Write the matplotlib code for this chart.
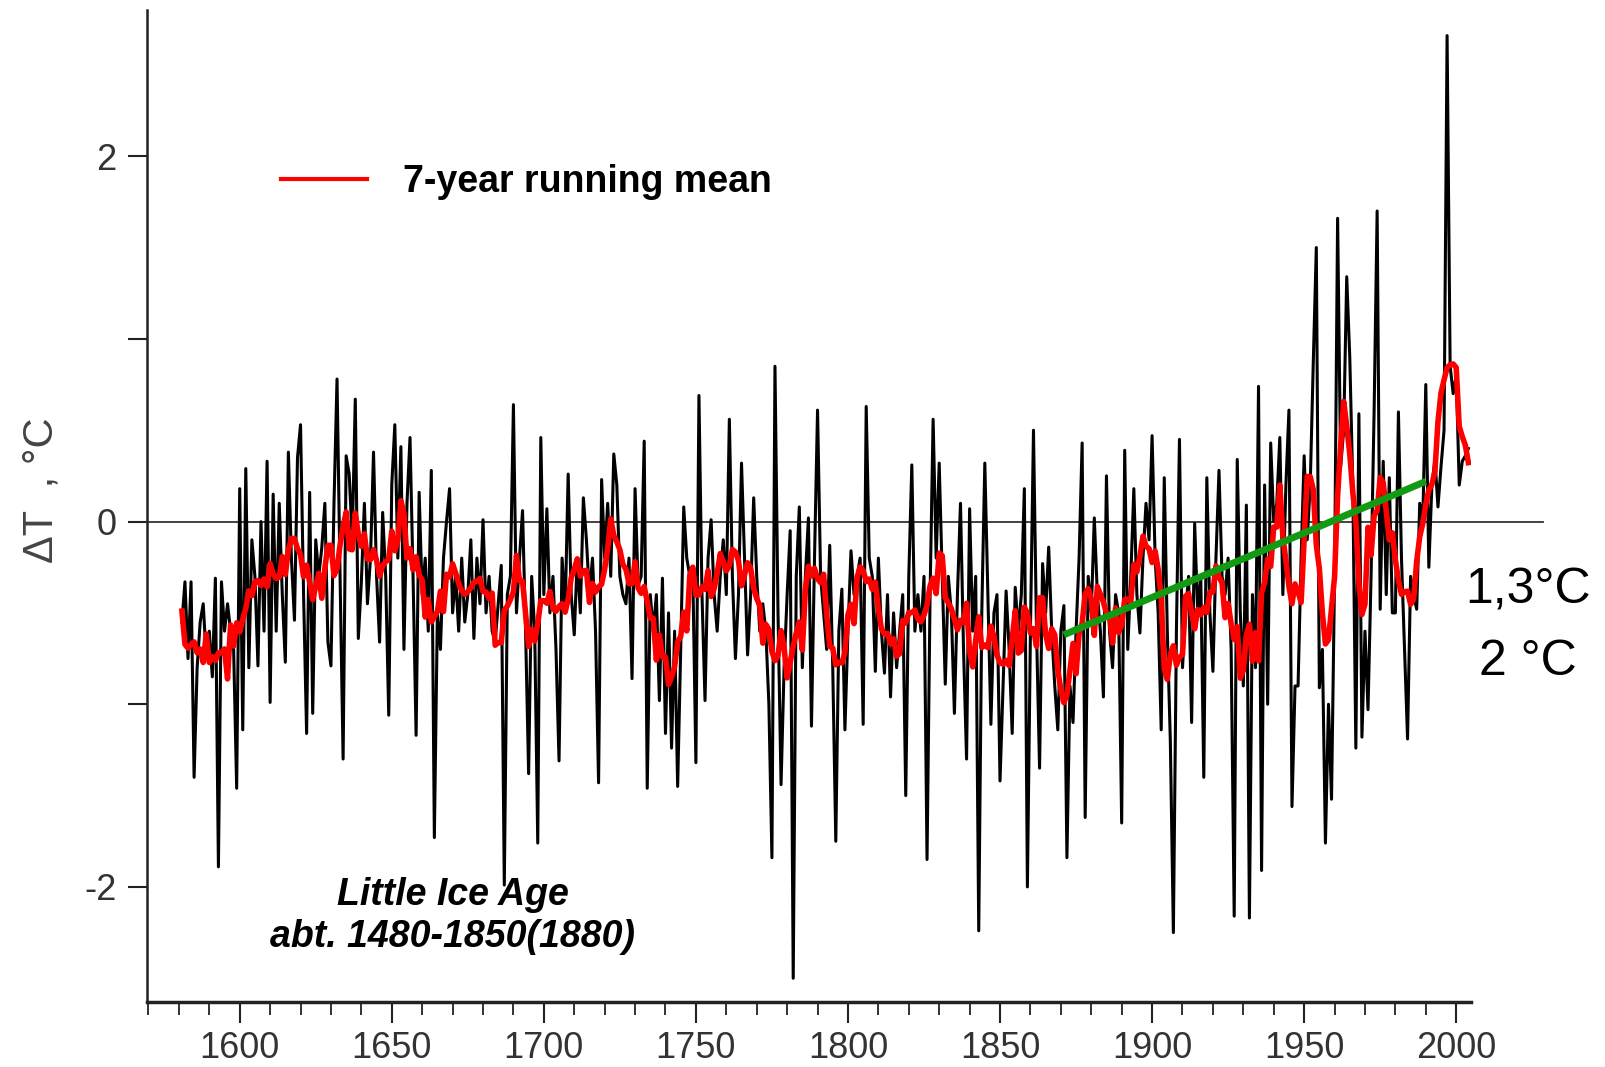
import numpy as np
import pandas as pd
import matplotlib
matplotlib.use("Agg")
import matplotlib.pyplot as plt
from matplotlib.ticker import MultipleLocator

plt.rcParams['font.family'] = ['Liberation Sans', 'DejaVu Sans']
plt.rcParams['axes.unicode_minus'] = False

# annual temperature anomaly (deg C), one value per year
anom_1581_1600 = [-0.55, -0.33, -0.75, -0.33, -1.40, -0.80, -0.55, -0.45, -0.75, -0.60,
                  -0.85, -0.31, -1.89, -0.33, -0.60, -0.45, -0.60, -0.70, -1.46, 0.18]
anom_1601_1650 = [-1.14, 0.29, -0.80, -0.10, -0.30, -0.79, 0.00, -0.60, 0.33, -0.99,
                  0.15, -0.60, 0.10, -0.40, -0.77, 0.38, -0.20, -0.54, 0.35, 0.53,
                  -0.40, -1.16, 0.16, -1.05, -0.10, -0.30, -0.14, 0.10, -0.66, -0.79,
                  0.10, 0.78, -0.30, -1.30, 0.36, 0.26, -0.10, 0.67, -0.64, -0.33,
                  0.10, -0.45, -0.20, 0.38, -0.30, -0.66, 0.05, -0.30, -1.06, 0.20]
anom_1651_1700 = [0.53, -0.20, 0.41, -0.70, 0.10, 0.46, -0.30, -1.17, 0.16, -0.40,
                  -0.20, -0.60, 0.28, -1.73, -0.50, -0.70, -0.20, 0.00, 0.18, -0.50,
                  -0.30, -0.60, -0.20, -0.55, -0.40, -0.10, -0.64, -0.20, -0.45, 0.01,
                  -0.50, -0.30, -0.60, -0.66, -0.45, -0.24, -1.99, -0.40, -0.30, 0.64,
                  -0.50, -0.20, 0.06, -0.60, -1.38, -0.30, -0.60, -1.76, 0.46, -0.40]
anom_1701_1750 = [0.07, -0.50, -0.30, -0.70, -1.31, -0.20, -0.50, 0.26, -0.40, -0.62,
                  -0.20, -0.50, 0.13, -0.10, -0.40, -0.20, -0.60, -1.43, 0.23, -0.20,
                  0.10, -0.30, 0.37, 0.20, -0.30, -0.40, -0.45, -0.20, -0.86, 0.18,
                  -0.35, -0.30, 0.44, -1.46, -0.40, -0.60, -0.40, -0.98, -0.31, -1.16,
                  -0.50, -1.24, -0.60, -1.45, -0.70, 0.08, -0.20, -0.30, -0.30, -1.32]
anom_1751_1800 = [0.69, -0.40, -0.98, -0.20, 0.01, -0.40, -0.60, -0.30, -0.10, -0.40,
                  0.56, -0.30, -0.75, -0.40, 0.32, -0.20, -0.73, -0.40, 0.13, -0.30,
                  -0.60, -0.45, -0.60, -1.00, -1.84, 0.85, -0.50, -1.44, -0.80, -0.40,
                  -0.05, -2.50, -0.30, 0.08, -0.80, -0.30, 0.02, -1.12, -0.20, 0.61,
                  -0.30, -0.50, -0.70, -0.13, -0.80, -1.75, -0.60, -0.37, -1.14, -0.60]
anom_1801_1850 = [-0.16, -0.40, -0.30, -0.20, -1.11, 0.63, -0.20, -0.30, -0.82, -0.20,
                  -0.60, -0.83, -0.40, -0.96, -0.50, -0.80, -0.60, -0.40, -1.50, -0.30,
                  0.31, -0.60, -0.40, -0.60, -0.30, -1.85, -0.40, 0.56, -0.20, 0.32,
                  -0.30, -0.89, -0.30, -0.50, -1.05, -0.40, 0.10, -0.70, -1.30, 0.07,
                  -0.60, -0.30, -2.24, -0.50, 0.32, -0.40, -1.11, -0.50, -0.40, -1.42]
anom_1851_1900 = [-0.90, -0.38, -0.70, -1.16, -0.36, -0.60, -0.40, 0.18, -2.00, -0.60,
                  0.50, -0.60, -1.35, -0.23, -0.50, -0.14, -0.60, -0.90, -1.14, -0.60,
                  -0.46, -1.84, -0.90, -1.10, -0.60, -0.20, 0.43, -1.62, -0.30, -0.50,
                  0.02, -0.40, -0.60, -0.96, 0.25, -0.60, -0.80, -0.40, -0.50, -1.65,
                  0.39, -0.70, -0.30, 0.18, -0.40, -0.61, -0.20, 0.10, -0.10, 0.47]
anom_1901_1950 = [-0.20, -0.50, -1.14, 0.24, -0.60, -1.20, -2.25, -0.60, 0.45, -0.80,
                  -0.50, -0.30, -1.10, -0.01, -0.50, -0.30, -1.40, 0.24, -0.50, -0.82,
                  -0.20, 0.28, -0.30, -0.40, -0.20, -0.70, -2.16, 0.34, -0.50, -0.90,
                  0.09, -2.17, -0.40, -0.80, 0.74, -1.91, 0.20, -1.00, 0.43, 0.00,
                  0.10, 0.46, -0.40, 0.20, 0.61, -1.56, -0.90, -0.90, -0.20, 0.36]
anom_1951_2004 = [-0.10, 0.20, 0.87, 1.50, -0.91, -0.70, -1.76, -1.00, -1.52, -0.30,
                  1.66, 0.30, 0.50, 1.34, 0.90, 0.20, -1.24, 0.59, -1.18, -0.60,
                  -1.03, -0.30, 0.60, 1.70, -0.48, 0.33, -0.40, 0.24, -0.50, -0.50,
                  0.60, -0.20, -0.70, -1.19, -0.30, -0.40, -0.48, 0.10, 0.00, 0.75,
                  -0.25, 0.20, 0.34, 0.08, 0.30, 0.50, 2.66, 0.85, 0.70, 0.80,
                  0.20, 0.33, 0.36, 0.40]

years = np.arange(1581, 2005)
anomaly = np.concatenate([anom_1581_1600, anom_1601_1650, anom_1651_1700,
                          anom_1701_1750, anom_1751_1800, anom_1801_1850,
                          anom_1851_1900, anom_1901_1950, anom_1951_2004])

# 7-year running mean of the annual series
running = pd.Series(anomaly).rolling(7, center=True, min_periods=1).mean()

# hand-drawn green trend line
trend_years = [1871, 1990]
trend_vals = [-0.62, 0.22]

fig = plt.figure(figsize=(16.06, 10.67), dpi=100)
ax = fig.add_axes([0.0915, 0.0609, 0.8247, 0.9297])

ax.axhline(0, xmin=0, xmax=1.054, color='#333333', lw=1.3, zorder=1, clip_on=False)
ax.plot(years, anomaly, color='black', lw=2.2, zorder=2)
ax.plot(years, running, color='#ff0000', lw=4.0, zorder=3, label='7-year running mean')
ax.plot(trend_years, trend_vals, color='#139a13', lw=5.0, zorder=4, solid_capstyle='butt')

ax.set_xlim(1569.5, 2005)
ax.set_ylim(-2.63, 2.80)

ax.xaxis.set_major_locator(MultipleLocator(50))
ax.xaxis.set_minor_locator(MultipleLocator(10))
ax.yaxis.set_major_locator(MultipleLocator(2))
ax.yaxis.set_minor_locator(MultipleLocator(1))

for s in ['top', 'right']:
    ax.spines[s].set_visible(False)
ax.spines['left'].set_linewidth(1.8)
ax.spines['bottom'].set_linewidth(2.5)
ax.spines['left'].set_color('#222222')
ax.spines['bottom'].set_color('#222222')

ax.tick_params(axis='x', which='major', length=15, width=1.5, pad=6,
               labelsize=26, color='#222222', labelcolor='#333333')
ax.tick_params(axis='x', which='minor', length=9, width=1.3, color='#222222')
ax.tick_params(axis='y', which='both', length=13.7, width=1.5, color='#222222')
ax.tick_params(axis='y', which='major', pad=8, labelsize=26, labelcolor='#333333')

leg = ax.legend(loc='center left', bbox_to_anchor=(1613.6, 1.86), bbox_transform=ax.transData,
                frameon=False, handlelength=2.3, handletextpad=0.95, borderaxespad=0,
                borderpad=0, prop={'weight': 'bold', 'size': 27})
for h in leg.get_lines():
    h.set_linewidth(3.0)

ax.text(1670, -2.16, 'Little Ice Age\nabt. 1480-1850(1880)', ha='center', va='center',
        fontsize=27, fontweight='bold', fontstyle='italic', multialignment='center')

ax.text(2023.6, -0.375, '1,3°C', ha='center', va='center', fontsize=36, clip_on=False)
ax.text(2023.6, -0.767, '2 °C', ha='center', va='center', fontsize=36, clip_on=False)

fig.text(41 / 1606, 1 - 490 / 1067, 'ΔT  , °C', rotation=90, fontsize=30,
         color='#444444', ha='center', va='center')

fig.savefig('out.png', dpi=100)
